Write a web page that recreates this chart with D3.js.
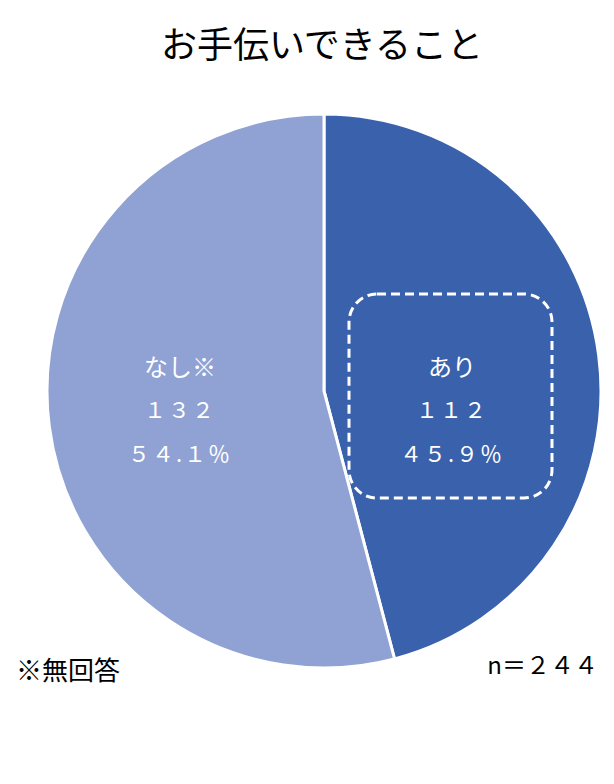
<!DOCTYPE html><html><head><meta charset="utf-8"><script src="https://cdn.jsdelivr.net/npm/d3@7"></script>
<style>body{margin:0;background:#fff}text{font-family:"Noto Sans CJK JP",sans-serif}</style></head><body>
<svg id="c" width="614" height="784"></svg>
<script>
const categories=["あり","なし※"];
const counts=[112,132];
const percents=["４５.９％","５４.１％"];
const countLabels=["１１２","１３２"];
const colors=["#3a61ac","#8fa2d3"];
const svg=d3.select("#c");
svg.append("text").attr("x",322).attr("y",58).attr("text-anchor","middle").attr("font-size",36).text("お手伝いできること");
const cx=324,cy=391,r=277;
const pie=d3.pie().sort(null)(counts);
const arc=d3.arc().innerRadius(0).outerRadius(r);
const g=svg.append("g").attr("transform",`translate(${cx},${cy})`);
g.selectAll("path").data(pie).join("path").attr("d",arc).attr("fill",(d,i)=>colors[i]).attr("stroke","#fff").attr("stroke-width",3);
const pos=[[452,0],[180,0]];
svg.append("rect").attr("x",349).attr("y",294).attr("width",203).attr("height",204).attr("rx",28).attr("fill","none").attr("stroke","#fff").attr("stroke-width",3).attr("stroke-dasharray","9,5");
pie.forEach((d,i)=>{
  const x=pos[i][0];
  const t=svg.append("text").attr("text-anchor","middle").attr("fill","#fff").attr("font-size",24);
  t.append("tspan").attr("x",x).attr("y",376).text(categories[i]);
  t.append("tspan").attr("x",x).attr("y",418).attr("font-size",22).attr("letter-spacing",2).text(countLabels[i]);
  t.append("tspan").attr("x",x).attr("y",462).attr("font-size",22).attr("letter-spacing",2).text(percents[i]);
});
svg.append("text").attr("x",16).attr("y",680).attr("font-size",26).text("※無回答");
svg.append("text").attr("x",598).attr("y",674).attr("text-anchor","end").attr("font-size",24).text("n＝２４４");
</script></body></html>
